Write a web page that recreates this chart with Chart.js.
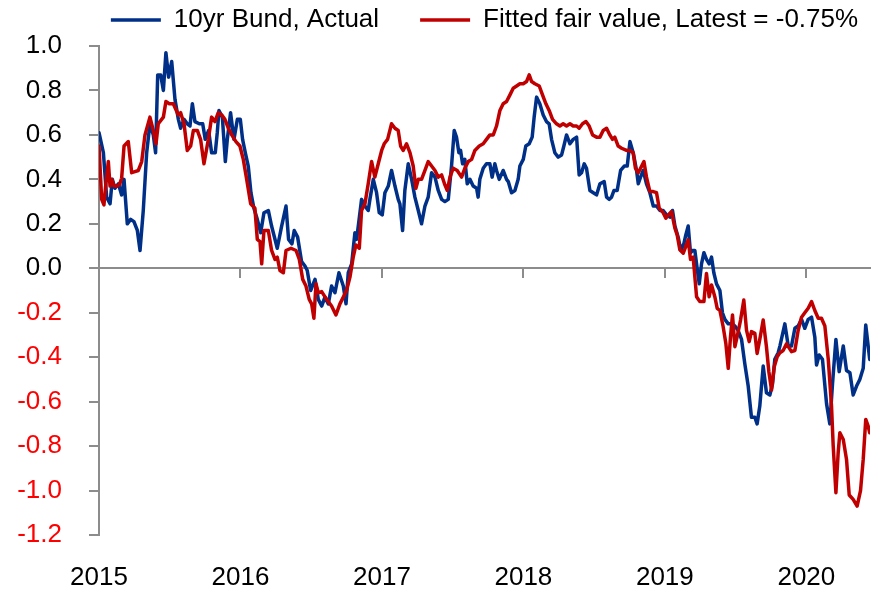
<!DOCTYPE html>
<html>
<head>
<meta charset="utf-8">
<script src="https://cdn.jsdelivr.net/npm/chart.js@4.4.1/dist/chart.umd.min.js"></script>
<style>
  body { margin: 0; background: #fff; }
  canvas { display: block; }
</style>
</head>
<body>
<canvas id="bundChart" width="872" height="592"></canvas>
<script>
// dates are decimal years, values in %
const actualDates = [
  2015.000, 2015.031, 2015.054, 2015.078, 2015.094, 2015.113, 2015.137, 2015.160, 2015.177, 2015.200,
  2015.224, 2015.247, 2015.271, 2015.290, 2015.313, 2015.337, 2015.360, 2015.384, 2015.400, 2015.415,
  2015.436, 2015.455, 2015.473, 2015.492, 2015.514, 2015.537, 2015.561, 2015.577, 2015.601, 2015.624,
  2015.643, 2015.660, 2015.678, 2015.709, 2015.733, 2015.751, 2015.775, 2015.796, 2015.822, 2015.836,
  2015.848, 2015.872, 2015.893, 2015.907, 2015.930, 2015.954, 2015.978, 2015.999, 2016.015, 2016.034,
  2016.055, 2016.074, 2016.095, 2016.119, 2016.143, 2016.166, 2016.197, 2016.220, 2016.260, 2016.291,
  2016.322, 2016.340, 2016.364, 2016.380, 2016.404, 2016.432, 2016.456, 2016.472, 2016.496, 2016.527,
  2016.550, 2016.574, 2016.597, 2016.621, 2016.644, 2016.668, 2016.696, 2016.727, 2016.746, 2016.762,
  2016.786, 2016.809, 2016.821, 2016.856, 2016.880, 2016.903, 2016.915, 2016.939, 2016.962, 2016.981,
  2017.002, 2017.021, 2017.045, 2017.068, 2017.092, 2017.115, 2017.127, 2017.146, 2017.162, 2017.186,
  2017.210, 2017.233, 2017.257, 2017.280, 2017.304, 2017.327, 2017.351, 2017.375, 2017.398, 2017.422,
  2017.445, 2017.469, 2017.492, 2017.511, 2017.527, 2017.544, 2017.556, 2017.570, 2017.586, 2017.603,
  2017.622, 2017.645, 2017.669, 2017.680, 2017.692, 2017.716, 2017.739, 2017.763, 2017.779, 2017.798,
  2017.810, 2017.829, 2017.857, 2017.881, 2017.893, 2017.916, 2017.940, 2017.963, 2017.975, 2017.999,
  2018.017, 2018.041, 2018.062, 2018.076, 2018.093, 2018.116, 2018.140, 2018.163, 2018.182, 2018.199,
  2018.222, 2018.246, 2018.270, 2018.286, 2018.305, 2018.329, 2018.352, 2018.376, 2018.394, 2018.411,
  2018.430, 2018.446, 2018.470, 2018.494, 2018.517, 2018.541, 2018.571, 2018.588, 2018.607, 2018.623,
  2018.640, 2018.663, 2018.687, 2018.713, 2018.734, 2018.753, 2018.776, 2018.800, 2018.812, 2018.828,
  2018.847, 2018.870, 2018.894, 2018.918, 2018.941, 2018.965, 2018.988, 2019.012, 2019.035, 2019.054,
  2019.071, 2019.094, 2019.113, 2019.134, 2019.148, 2019.165, 2019.181, 2019.195, 2019.212, 2019.228,
  2019.243, 2019.259, 2019.276, 2019.294, 2019.313, 2019.330, 2019.346, 2019.365, 2019.389, 2019.407,
  2019.424, 2019.448, 2019.471, 2019.495, 2019.518, 2019.542, 2019.565, 2019.589, 2019.612, 2019.636,
  2019.652, 2019.671, 2019.695, 2019.718, 2019.742, 2019.761, 2019.777, 2019.801, 2019.813, 2019.848,
  2019.872, 2019.895, 2019.919, 2019.942, 2019.966, 2019.989, 2020.013, 2020.037, 2020.060, 2020.072,
  2020.091, 2020.114, 2020.143, 2020.166, 2020.185, 2020.209, 2020.232, 2020.261, 2020.284, 2020.308,
  2020.331, 2020.355, 2020.378, 2020.402, 2020.420, 2020.437, 2020.448
];
const actualYields = [
  0.61, 0.52, 0.32, 0.29, 0.40, 0.36, 0.38, 0.33, 0.40, 0.20,
  0.22, 0.21, 0.17, 0.08, 0.26, 0.52, 0.65, 0.60, 0.52, 0.87,
  0.87, 0.80, 0.97, 0.86, 0.93, 0.76, 0.67, 0.63, 0.67, 0.65,
  0.64, 0.74, 0.66, 0.65, 0.65, 0.58, 0.62, 0.52, 0.52, 0.61,
  0.71, 0.68, 0.48, 0.58, 0.70, 0.58, 0.67, 0.67, 0.58, 0.52,
  0.46, 0.34, 0.27, 0.22, 0.16, 0.25, 0.26, 0.19, 0.09, 0.19,
  0.28, 0.13, 0.11, 0.17, 0.14, 0.03, 0.01, -0.01, -0.10, -0.05,
  -0.14, -0.17, -0.13, -0.16, -0.08, -0.11, -0.02, -0.08, -0.16, -0.02,
  0.02, 0.16, 0.13, 0.31, 0.28, 0.26, 0.31, 0.40, 0.34, 0.25,
  0.24, 0.34, 0.37, 0.44, 0.37, 0.31, 0.29, 0.17, 0.35, 0.47,
  0.40, 0.32, 0.26, 0.20, 0.28, 0.32, 0.43, 0.41, 0.35, 0.31,
  0.30, 0.31, 0.46, 0.62, 0.59, 0.52, 0.53, 0.47, 0.49, 0.38,
  0.40, 0.37, 0.36, 0.32, 0.40, 0.45, 0.47, 0.47, 0.41, 0.47,
  0.44, 0.40, 0.44, 0.40, 0.39, 0.34, 0.35, 0.40, 0.46, 0.49,
  0.55, 0.56, 0.59, 0.68, 0.77, 0.74, 0.69, 0.66, 0.65, 0.58,
  0.52, 0.50, 0.51, 0.55, 0.60, 0.56, 0.58, 0.59, 0.42, 0.43,
  0.47, 0.45, 0.35, 0.34, 0.33, 0.38, 0.39, 0.32, 0.31, 0.32,
  0.35, 0.35, 0.44, 0.46, 0.46, 0.57, 0.52, 0.44, 0.38, 0.41,
  0.44, 0.38, 0.34, 0.28, 0.28, 0.26, 0.26, 0.24, 0.23, 0.26,
  0.19, 0.14, 0.08, 0.11, 0.15, 0.19, 0.07, 0.08, 0.08, 0.00,
  -0.07, 0.02, 0.07, 0.04, 0.02, 0.05, -0.02, -0.07, -0.10, -0.20,
  -0.23, -0.25, -0.25, -0.26, -0.28, -0.32, -0.43, -0.53, -0.67, -0.67,
  -0.70, -0.62, -0.44, -0.56, -0.57, -0.52, -0.41, -0.38, -0.35, -0.25,
  -0.35, -0.35, -0.27, -0.26, -0.23, -0.27, -0.23, -0.22, -0.31, -0.435,
  -0.39, -0.41, -0.61, -0.70, -0.52, -0.32, -0.465, -0.35, -0.46, -0.47,
  -0.57, -0.53, -0.50, -0.45, -0.255, -0.35, -0.41
];

const fairDates = [
  2015.000, 2015.019, 2015.035, 2015.047, 2015.066, 2015.078, 2015.090, 2015.106, 2015.125, 2015.144,
  2015.160, 2015.177, 2015.207, 2015.231, 2015.254, 2015.278, 2015.302, 2015.325, 2015.360, 2015.384,
  2015.403, 2015.419, 2015.455, 2015.473, 2015.497, 2015.525, 2015.561, 2015.577, 2015.601, 2015.624,
  2015.648, 2015.667, 2015.695, 2015.718, 2015.742, 2015.773, 2015.796, 2015.820, 2015.843, 2015.867,
  2015.890, 2015.914, 2015.938, 2015.968, 2015.996, 2016.020, 2016.044, 2016.072, 2016.102, 2016.119,
  2016.138, 2016.150, 2016.166, 2016.197, 2016.220, 2016.244, 2016.260, 2016.279, 2016.303, 2016.322,
  2016.357, 2016.393, 2016.416, 2016.440, 2016.463, 2016.486, 2016.503, 2016.519, 2016.534, 2016.550,
  2016.574, 2016.609, 2016.644, 2016.675, 2016.703, 2016.727, 2016.750, 2016.774, 2016.797, 2016.816,
  2016.840, 2016.856, 2016.880, 2016.903, 2016.927, 2016.950, 2016.974, 2016.998, 2017.016, 2017.040,
  2017.068, 2017.092, 2017.115, 2017.132, 2017.150, 2017.174, 2017.198, 2017.221, 2017.240, 2017.257,
  2017.280, 2017.304, 2017.327, 2017.351, 2017.375, 2017.398, 2017.422, 2017.445, 2017.462, 2017.481,
  2017.504, 2017.532, 2017.563, 2017.586, 2017.610, 2017.634, 2017.657, 2017.688, 2017.716, 2017.739,
  2017.763, 2017.787, 2017.810, 2017.834, 2017.857, 2017.881, 2017.905, 2017.928, 2017.952, 2017.975,
  2017.999, 2018.022, 2018.041, 2018.058, 2018.081, 2018.112, 2018.135, 2018.159, 2018.182, 2018.206,
  2018.234, 2018.258, 2018.281, 2018.305, 2018.329, 2018.352, 2018.376, 2018.394, 2018.418, 2018.442,
  2018.465, 2018.489, 2018.517, 2018.541, 2018.564, 2018.588, 2018.611, 2018.630, 2018.646, 2018.670,
  2018.694, 2018.729, 2018.753, 2018.776, 2018.792, 2018.812, 2018.852, 2018.870, 2018.894, 2018.918,
  2018.941, 2018.960, 2018.988, 2019.007, 2019.024, 2019.047, 2019.071, 2019.087, 2019.106, 2019.130,
  2019.148, 2019.165, 2019.181, 2019.200, 2019.224, 2019.247, 2019.276, 2019.294, 2019.313, 2019.330,
  2019.353, 2019.370, 2019.389, 2019.412, 2019.431, 2019.448, 2019.464, 2019.478, 2019.495, 2019.511,
  2019.535, 2019.558, 2019.577, 2019.596, 2019.612, 2019.636, 2019.652, 2019.671, 2019.695, 2019.718,
  2019.735, 2019.754, 2019.773, 2019.794, 2019.813, 2019.836, 2019.860, 2019.895, 2019.919, 2019.942,
  2019.966, 2019.989, 2020.013, 2020.037, 2020.060, 2020.084, 2020.107, 2020.131, 2020.155, 2020.178,
  2020.190, 2020.209, 2020.225, 2020.237, 2020.261, 2020.284, 2020.303, 2020.331, 2020.359, 2020.383,
  2020.402, 2020.420, 2020.437, 2020.448
];
const fairYields = [
  0.55, 0.31, 0.285, 0.37, 0.48, 0.37, 0.40, 0.37, 0.37, 0.375,
  0.405, 0.55, 0.57, 0.43, 0.435, 0.44, 0.48, 0.60, 0.68, 0.62,
  0.56, 0.65, 0.68, 0.75, 0.74, 0.74, 0.69, 0.70, 0.65, 0.53,
  0.55, 0.62, 0.62, 0.58, 0.47, 0.58, 0.68, 0.66, 0.70, 0.69,
  0.67, 0.63, 0.60, 0.57, 0.55, 0.49, 0.40, 0.29, 0.27, 0.13,
  0.12, 0.02, 0.17, 0.17, 0.08, 0.04, 0.05, -0.01, -0.02, 0.08,
  0.09, 0.08, 0.04, -0.05, -0.08, -0.14, -0.16, -0.225, -0.07, -0.11,
  -0.105, -0.14, -0.17, -0.21, -0.16, -0.13, -0.10, -0.04, 0.05, 0.105,
  0.09, 0.26, 0.29, 0.38, 0.48, 0.41, 0.47, 0.53, 0.56, 0.58,
  0.65, 0.63, 0.62, 0.55, 0.53, 0.56, 0.52, 0.46, 0.36, 0.40,
  0.40, 0.44, 0.48, 0.46, 0.44, 0.41, 0.42, 0.375, 0.35, 0.41,
  0.45, 0.44, 0.41, 0.45, 0.48, 0.49, 0.53, 0.55, 0.56, 0.58,
  0.60, 0.60, 0.64, 0.71, 0.74, 0.75, 0.78, 0.81, 0.82, 0.83,
  0.83, 0.84, 0.87, 0.84, 0.83, 0.82, 0.78, 0.74, 0.71, 0.67,
  0.65, 0.64, 0.65, 0.64, 0.65, 0.64, 0.64, 0.63, 0.65, 0.66,
  0.64, 0.60, 0.59, 0.59, 0.62, 0.63, 0.60, 0.58, 0.59, 0.55,
  0.54, 0.53, 0.53, 0.52, 0.45, 0.43, 0.48, 0.41, 0.345, 0.345,
  0.34, 0.27, 0.25, 0.225, 0.24, 0.255, 0.18, 0.15, 0.083, 0.068,
  0.098, 0.128, 0.04, 0.05, -0.128, -0.15, -0.15, -0.023, -0.128, -0.075,
  -0.128, -0.18, -0.19, -0.263, -0.338, -0.45, -0.308, -0.21, -0.353, -0.308,
  -0.233, -0.143, -0.278, -0.33, -0.285, -0.293, -0.383, -0.32, -0.233, -0.353,
  -0.465, -0.548, -0.443, -0.398, -0.38, -0.37, -0.34, -0.375, -0.37, -0.28,
  -0.22, -0.20, -0.18, -0.15, -0.19, -0.225, -0.225, -0.26, -0.41, -0.62,
  -0.80, -1.01, -0.83, -0.74, -0.77, -0.86, -1.02, -1.04, -1.07, -1.00,
  -0.86, -0.68, -0.71, -0.74
];

const yearTicks = [2015, 2016, 2017, 2018, 2019, 2020];
const seriesNames = ['10yr Bund, Actual', 'Fitted fair value, Latest = -0.75%'];
const seriesColors = ['#002f87', '#c00000'];

const axisGrey = '#8c8c8c';
const LEGEND_GAP = 41;

// the original uses a narrow font; take the first one installed and size it
// so the first legend entry is as wide as in the picture (~205px)
function hasFont(name) {
  const c = document.createElement('canvas').getContext('2d');
  const s = '10yr Bund, Actual 2015 -0.8';
  c.font = '40px monospace';
  const a = c.measureText(s).width;
  c.font = `40px '${name}', monospace`;
  return c.measureText(s).width !== a;
}
const fontCandidates = ['Liberation Sans Narrow', 'Arial Narrow', 'Liberation Sans', 'Arial'];
const FONT = (fontCandidates.find(hasFont) || 'sans-serif');
const FONT_SIZE = (() => {
  const c = document.createElement('canvas').getContext('2d');
  c.font = `100px '${FONT}'`;
  return Math.round(100 * 205 / c.measureText(seriesNames[0]).width * 2) / 2;
})();
const fontSpec = { family: `'${FONT}', sans-serif`, size: FONT_SIZE };

function toPoints(dates, values) {
  return dates.map((d, i) => ({ x: d, y: values[i] }));
}

function setYearTicks(scale) {
  scale.ticks = yearTicks.map(v => ({ value: v }));
}

// chart area top sits at y=46; legend is laid out on one row,
// then centred over the plot and its text lifted to y~20
const padTop = 46 - (FONT_SIZE + LEGEND_GAP + 10);
const legendNudge = {
  id: 'legendNudge',
  afterLayout(chart) {
    const lg = chart.legend;
    const ca = chart.chartArea;
    const content = lg.lineWidths[0] - LEGEND_GAP;
    lg.left = (ca.left + ca.right) / 2 - content / 2 - LEGEND_GAP;
    lg.right = 5000;
    lg.top = 20 - LEGEND_GAP - FONT_SIZE / 2;
  }
};

new Chart(document.getElementById('bundChart'), {
  type: 'line',
  data: {
    datasets: [
      {
        label: seriesNames[0],
        data: toPoints(actualDates, actualYields),
        borderColor: seriesColors[0],
        backgroundColor: seriesColors[0],
        borderWidth: 3.5,
        pointRadius: 0,
        pointStyle: 'line',
        order: 1
      },
      {
        label: seriesNames[1],
        data: toPoints(fairDates, fairYields),
        borderColor: seriesColors[1],
        backgroundColor: seriesColors[1],
        borderWidth: 3.5,
        pointRadius: 0,
        pointStyle: 'line',
        order: 0 // red on top
      }
    ]
  },
  options: {
    responsive: false,
    animation: false,
    layout: { padding: { top: padTop, right: 2, left: 0, bottom: 0 } },
    elements: { line: { tension: 0, borderJoinStyle: 'round', borderCapStyle: 'round' } },
    plugins: {
      legend: {
        position: 'top',
        fullSize: true,
        align: 'start',
        labels: {
          usePointStyle: true,
          pointStyleWidth: 50,
          padding: LEGEND_GAP,
          color: '#000',
          font: fontSpec,
          sort: (a, b) => a.datasetIndex - b.datasetIndex
        }
      },
      tooltip: { enabled: false }
    },
    scales: {
      x: {
        type: 'linear',
        min: 2015,
        max: 2020.45,
        afterBuildTicks: setYearTicks,
        afterFit: s => { s.height = 57; },
        grid: { display: false, drawTicks: false },
        border: { display: false },
        ticks: {
          color: '#000',
          font: fontSpec,
          padding: 27,
          maxRotation: 0,
          autoSkip: false,
          callback: v => String(v)
        }
      },
      // axis line through zero with the year tick marks
      xZero: {
        type: 'linear',
        axis: 'x',
        position: { y: 0 },
        min: 2015,
        max: 2020.45,
        afterBuildTicks: setYearTicks,
        grid: { drawOnChartArea: false, drawTicks: true, tickLength: 9, color: axisGrey, lineWidth: 2 },
        border: { display: true, color: axisGrey, width: 2 },
        ticks: { display: false }
      },
      y: {
        min: -1.2,
        max: 1.0,
        afterFit: s => { s.width = 99; },
        grid: { drawOnChartArea: false, tickLength: 10, color: axisGrey, lineWidth: 2 },
        border: { color: axisGrey, width: 2 },
        ticks: {
          stepSize: 0.2,
          autoSkip: false,
          padding: 27,
          font: fontSpec,
          color: ctx => (ctx.tick && ctx.tick.value < -1e-9 ? '#ff0000' : '#000000'),
          callback: v => (Math.abs(v) < 1e-9 ? '0.0' : v.toFixed(1))
        }
      }
    }
  },
  plugins: [legendNudge]
});
</script>
</body>
</html>
